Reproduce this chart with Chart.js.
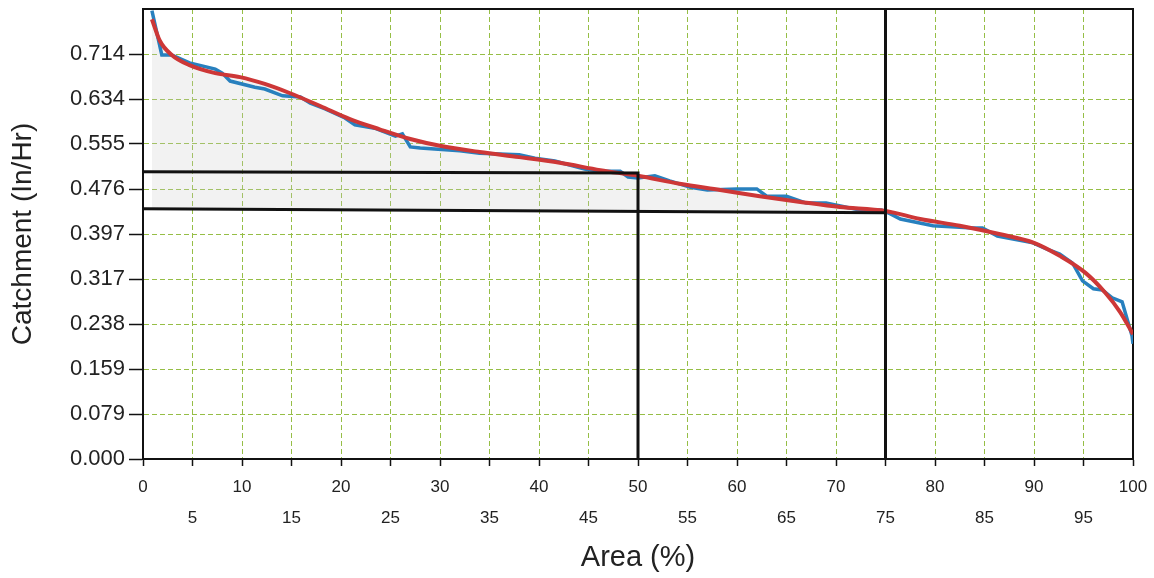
<!DOCTYPE html>
<html>
<head>
<meta charset="utf-8">
<script src="https://cdn.jsdelivr.net/npm/chart.js@4/dist/chart.umd.min.js"></script>
<style>
html,body{margin:0;padding:0;background:#fff;}
#wrap{width:1154px;height:578px;position:relative;}
</style>
</head>
<body>
<div id="wrap"><canvas id="c" width="1154" height="578"></canvas></div>
<script>
// ---- data ----
const yTickValues = [0, 0.0793, 0.1586, 0.2379, 0.3172, 0.3965, 0.4758, 0.5551, 0.6344, 0.7137];
const yTickLabels = ['0.000', '0.079', '0.159', '0.238', '0.317', '0.397', '0.476', '0.555', '0.634', '0.714'];
const xTickValues = [0,5,10,15,20,25,30,35,40,45,50,55,60,65,70,75,80,85,90,95,100];

const observedX = [0.9,1.9,2.9,4.7,7.3,8.0,8.8,11.3,12.3,14.1,15.9,16.9,18.4,20.4,21.4,23.4,25.5,26.2,27.0,28.0,32,34,38,39.6,41.6,43.1,44.6,46.2,48.2,49,50,51.7,53.2,55.3,57,60,62,63,65,67,69,72.4,74.6,75.5,76.5,79.8,83.8,84.8,86.3,89.9,91.3,92.6,93.9,94.9,96,96.9,97.9,98.9,99.9,100];
const observedY = [0.79,0.712,0.712,0.698,0.687,0.680,0.666,0.655,0.652,0.640,0.638,0.627,0.617,0.601,0.589,0.583,0.569,0.573,0.550,0.548,0.543,0.539,0.536,0.530,0.525,0.518,0.511,0.507,0.507,0.497,0.495,0.499,0.490,0.479,0.474,0.476,0.476,0.463,0.463,0.451,0.451,0.439,0.439,0.432,0.423,0.411,0.407,0.407,0.393,0.381,0.370,0.361,0.345,0.314,0.300,0.298,0.284,0.277,0.217,0.203];

const fitX = [0.9,1.7,2.9,4.7,7.3,9.8,12.3,14.8,17.9,20.9,23.9,27,30,34,38,42.1,46.2,50,54.2,58.3,62.3,66.4,70.4,75,78.5,82.5,86.6,90,92.6,95.2,97.2,98.7,100];
const fitY = [0.775,0.737,0.712,0.694,0.680,0.673,0.661,0.645,0.622,0.599,0.581,0.564,0.552,0.541,0.532,0.522,0.509,0.499,0.485,0.474,0.463,0.453,0.444,0.437,0.423,0.411,0.396,0.381,0.358,0.328,0.293,0.259,0.220];

// reference guide lines (area %, catchment)
const upperGuideX = [0, 50, 50];
const upperGuideY = [0.506, 0.504, 0];
const lowerGuideX = [0, 75];
const lowerGuideY = [0.441, 0.434];
const q75LineX = [75, 75];
const q75LineY = [0, 0.793];

const yMax = 0.793;

const pts = (xs, ys) => xs.map((x, i) => ({x, y: ys[i]}));
const shadeX = fitX.filter(x => x <= 75);
const shadeY = fitY.slice(0, shadeX.length);

const GREEN = 'rgb(150,190,70)';
const FONT = "'Liberation Sans', Arial, sans-serif";

new Chart(document.getElementById('c'), {
  type: 'line',
  data: {
    datasets: [
      { // 0 lower guide (fill target)
        data: pts(lowerGuideX, lowerGuideY), borderColor: '#111', borderWidth: 3,
        pointRadius: 0, fill: false, order: 1
      },
      { // 1 shaded region
        data: pts(shadeX, shadeY), borderWidth: 0, borderColor: 'rgba(0,0,0,0)',
        backgroundColor: 'rgba(205,205,205,0.25)', pointRadius: 0,
        fill: {target: 0}, cubicInterpolationMode: 'monotone', order: 5
      },
      { // 2 upper guide
        data: pts(upperGuideX, upperGuideY), borderColor: '#111', borderWidth: 3,
        pointRadius: 0, fill: false, order: 1
      },
      { // 3 q75 vertical
        data: pts(q75LineX, q75LineY), borderColor: '#111', borderWidth: 3,
        pointRadius: 0, fill: false, order: 1
      },
      { // 4 observed
        data: pts(observedX, observedY), borderColor: 'rgb(40,128,190)', borderWidth: 3.5,
        pointRadius: 0, fill: false, tension: 0, order: 3
      },
      { // 5 fit
        data: pts(fitX, fitY), borderColor: 'rgb(205,55,55)', borderWidth: 4,
        pointRadius: 0, fill: false, cubicInterpolationMode: 'monotone', order: 2
      }
    ]
  },
  options: {
    responsive: false,
    animation: false,
    events: [],
    layout: {padding: 0},
    plugins: {legend: {display: false}, tooltip: {enabled: false}},
    scales: {
      x: {
        type: 'linear', position: 'bottom', min: 0, max: 100,
        afterBuildTicks: s => { s.ticks = xTickValues.map(v => ({value: v})); },
        afterFit: s => { s.height = 119; s.paddingLeft = 0; s.paddingRight = 0; },
        ticks: {
          color: '#222', padding: 6, maxRotation: 0, autoSkip: false,
          font: {family: FONT, size: 17, lineHeight: 31/17},
          callback: v => (v % 10 === 0 ? String(v) : ['', String(v)])
        },
        grid: {color: GREEN, lineWidth: 1, tickColor: '#111', tickLength: 7, tickWidth: 1.5, tickBorderDash: [], borderDash: [5, 3]},
        border: {display: true, color: '#111', width: 2, dash: [5, 3]},
        title: {display: true, text: 'Area (%)', color: '#222', font: {family: FONT, size: 29}, padding: {top: 0, bottom: 3}}
      },
      y: {
        type: 'linear', position: 'left', min: 0, max: yMax,
        afterBuildTicks: s => { s.ticks = yTickValues.map(v => ({value: v})); },
        afterFit: s => { s.width = 143; s.paddingTop = 0; s.paddingBottom = 0; },
        ticks: {
          color: '#222', padding: 4, autoSkip: false,
          font: {family: FONT, size: 22},
          callback: (v, i) => yTickLabels[i]
        },
        grid: {color: GREEN, lineWidth: 1, tickColor: '#111', tickLength: 14, tickWidth: 1.5, tickBorderDash: [], borderDash: [5, 3]},
        border: {display: true, color: '#111', width: 2, dash: [5, 3]},
        title: {display: true, text: 'Catchment (In/Hr)', color: '#222', font: {family: FONT, size: 28}, padding: {top: 6, bottom: 0}}
      },
      xTop: {
        type: 'linear', position: 'top', min: 0, max: 100, display: true,
        afterFit: s => { s.height = 9; s.paddingLeft = 0; s.paddingRight = 0; },
        ticks: {display: false}, grid: {display: false, drawTicks: false},
        border: {display: true, color: '#111', width: 2}
      },
      yRight: {
        type: 'linear', position: 'right', min: 0, max: yMax, display: true,
        afterFit: s => { s.width = 21; s.paddingTop = 0; s.paddingBottom = 0; },
        ticks: {display: false}, grid: {display: false, drawTicks: false},
        border: {display: true, color: '#111', width: 2}
      }
    }
  }
});
</script>
</body>
</html>
